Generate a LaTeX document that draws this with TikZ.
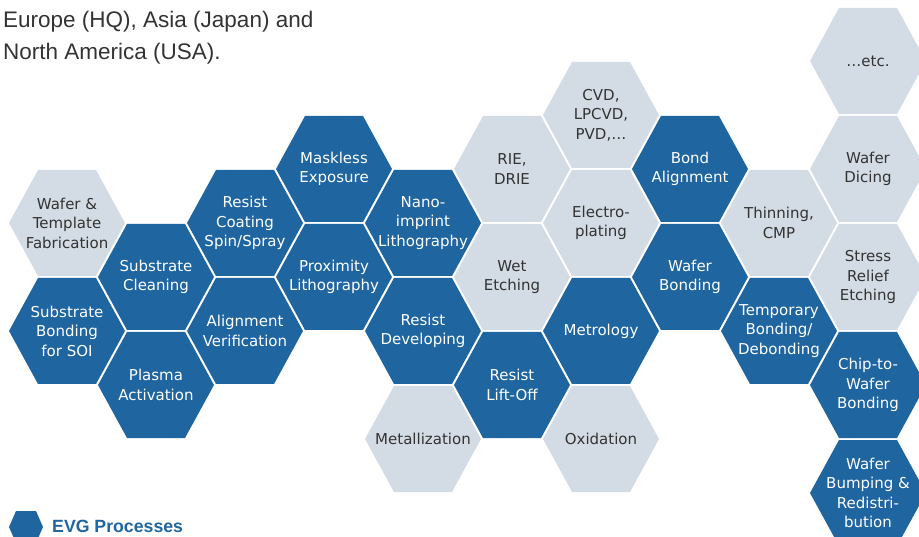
\documentclass[tikz,border=0pt]{standalone}
\usepackage{fontspec}
\setmainfont{Liberation Sans}
\newfontfamily\hexfont{DejaVu Sans}
\definecolor{evgblue}{HTML}{1F65A0}
\definecolor{hexgrey}{HTML}{D3DCE4}
\definecolor{txtgrey}{HTML}{333333}
\tikzset{
  bluecell/.style={fill=evgblue},
  greycell/.style={fill=hexgrey},
  celltext/.style={align=center, inner sep=0pt, font=\hexfont\fontsize{15}{19.5}\selectfont},
  bluetext/.style={celltext, text=white},
  greytext/.style={celltext, text=txtgrey},
  toptext/.style={anchor=base west, inner sep=0pt, text=txtgrey, font=\fontsize{22.5}{27}\selectfont},
  legendtext/.style={anchor=base west, inner sep=0pt, text=evgblue, font=\bfseries\fontsize{17.7}{21}\selectfont},
}
\newcommand{\hexcell}[5]{%
  \fill[#4cell] (#2-58,#3) -- (#2-29,#3-53) -- (#2+29,#3-53) -- (#2+58,#3)
     -- (#2+29,#3+53) -- (#2-29,#3+53) -- cycle;
  \node[#4text] (#1) at (#2,#3) {#5};
}
\begin{document}
\begin{tikzpicture}[x=1pt,y=-1pt]
\useasboundingbox (0,0) rectangle (919,537);
\clip (0,0) rectangle (919,537);
% intro text
\node[toptext] (intro1) at (3,27.7) {Europe (HQ), Asia (Japan) and};
\node[toptext] (intro2) at (3,59.5) {North America (USA).};
% column 0
\hexcell{wafertemplate}{67}{223}{grey}{Wafer \&\\Template\\Fabrication}
\hexcell{subbond}{67}{331}{blue}{Substrate\\Bonding\\for SOI}
% column 1
\hexcell{subclean}{156}{277}{blue}{Substrate\\Cleaning}
\hexcell{plasma}{156}{385}{blue}{Plasma\\Activation}
% column 2
\hexcell{resistcoat}{245}{223}{blue}{Resist\\Coating\\Spin/Spray}
\hexcell{alignver}{245}{331}{blue}{Alignment\\Verification}
% column 3
\hexcell{maskless}{334}{169}{blue}{Maskless\\Exposure}
\hexcell{proximity}{334}{277}{blue}{Proximity\\Lithography}
% column 4
\hexcell{nano}{423}{223}{blue}{Nano-\\imprint\\Lithography}
\hexcell{resdev}{423}{331}{blue}{Resist\\Developing}
\hexcell{metallization}{423}{439}{grey}{Metallization}
% column 5
\hexcell{rie}{512}{169}{grey}{RIE,\\DRIE}
\hexcell{wet}{512}{277}{grey}{Wet\\Etching}
\hexcell{liftoff}{512}{385}{blue}{Resist\\Lift-Off}
% column 6
\hexcell{cvd}{601}{115}{grey}{CVD,\\LPCVD,\\PVD,…}
\hexcell{electro}{601}{223}{grey}{Electro-\\plating}
\hexcell{metrology}{601}{331}{blue}{Metrology}
\hexcell{oxidation}{601}{439}{grey}{Oxidation}
% column 7
\hexcell{bondalign}{690}{169}{blue}{Bond\\Alignment}
\hexcell{waferbond}{690}{277}{blue}{Wafer\\Bonding}
% column 8
\hexcell{thinning}{779}{223}{grey}{Thinning,\\CMP}
\hexcell{tempbond}{779}{331}{blue}{Temporary\\Bonding/\\Debonding}
% column 9
\hexcell{etc}{868}{61}{grey}{…etc.}
\hexcell{dicing}{868}{169}{grey}{Wafer\\Dicing}
\hexcell{stress}{868}{277}{grey}{Stress\\Relief\\Etching}
\hexcell{chip}{868}{385}{blue}{Chip-to-\\Wafer\\Bonding}
\hexcell{bumping}{868}{493}{blue}{Wafer\\Bumping \&\\Redistri-\\bution}
% legend
\fill[bluecell] (9,527) -- (16,511) -- (36,511) -- (43,527) -- (36,543) -- (16,543) -- cycle;
\node[legendtext] (legend) at (52,532) {EVG Processes};
\end{tikzpicture}
\end{document}
